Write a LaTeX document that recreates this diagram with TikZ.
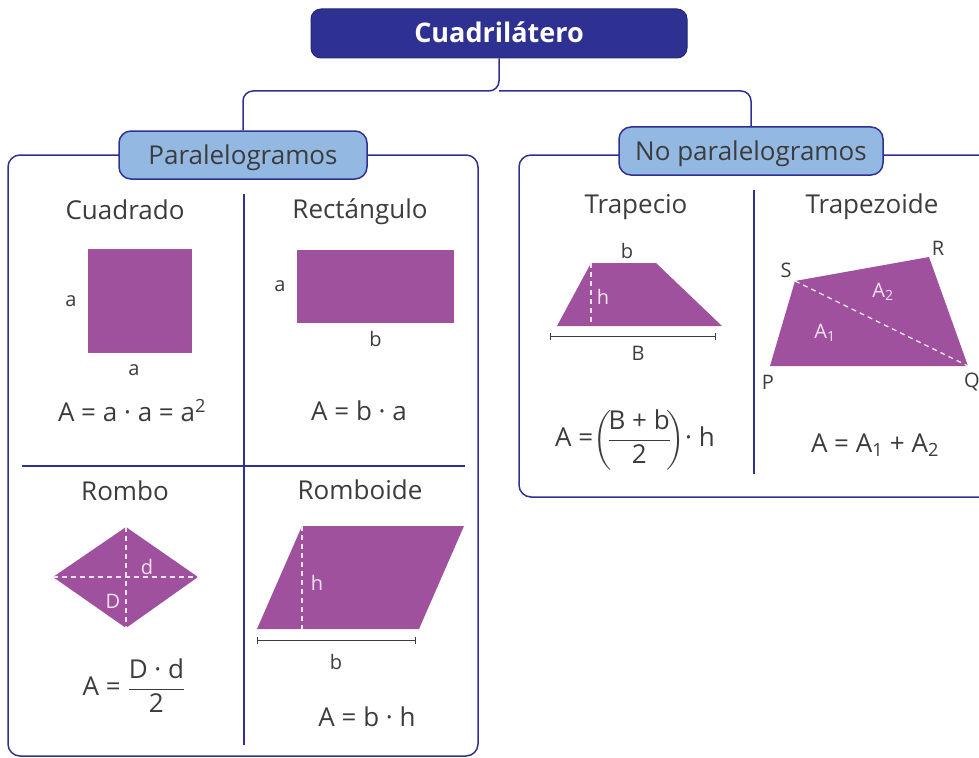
\documentclass[tikz,border=0pt]{standalone}
\usepackage{amsmath}
\usepackage{fontspec}
\setmainfont{Open Sans}
\usepackage{tikz}
\usetikzlibrary{positioning, calc, arrows.meta}
\definecolor{navy}{HTML}{2E3192}
\definecolor{sky}{HTML}{93B9E2}
\definecolor{plum}{HTML}{A0519E}
\definecolor{ink}{HTML}{3C3C3C}
\definecolor{pale}{HTML}{F3E3F1}
\tikzset{
    root/.style={
        rectangle,
        rounded corners=10pt,
        fill=navy,
        draw=navy!80!black,
        line width=1pt,
        text=white,
        font=\bfseries\fontsize{27}{32}\selectfont,
        minimum width=376pt,
        minimum height=49pt,
        text height=24pt,
        text depth=5pt,
    },
    group/.style={
        rectangle,
        rounded corners=12pt,
        fill=sky,
        draw=navy,
        line width=1.5pt,
        text=ink,
        font=\fontsize{26}{30}\selectfont,
        minimum height=48pt,
        text height=24.6pt,
        text depth=6pt,
    },
    panel/.style={draw=navy, line width=1.5pt, rounded corners=12pt},
    link/.style={draw=navy, line width=1.5pt, rounded corners=10pt},
    divider/.style={draw=navy, line width=1.5pt},
    heading/.style={text=ink, font=\fontsize{26}{30}\selectfont, anchor=base, inner sep=0pt},
    formula/.style={text=ink, font=\fontsize{26}{30}\selectfont, inner sep=0pt},
    figure/.style={fill=plum, draw=none, inner sep=0pt},
    hidden/.style={draw=pale, line width=1.3pt, dash pattern=on 5pt off 4pt},
    dim/.style={text=ink, font=\fontsize{20}{24}\selectfont, inner sep=0pt},
    inlabel/.style={text=pale, font=\fontsize{20}{24}\selectfont, inner sep=0pt},
    measure/.style={draw=ink, line width=1pt, {Bar[width=7pt]}-{Bar[width=7pt]}},
}

\begin{document}
\begin{tikzpicture}[x=1pt, y=-1pt]
    \clip (0,0) rectangle (979,757);

    % frames
    \draw[panel] (8,155) rectangle (478,756);
    \draw[panel] (519,155) rectangle (1000,497);
    \draw[divider] (244,194) -- (244,745);
    \draw[divider] (22,466) -- (465,466);
    \draw[divider] (754,190) -- (754,474);

    % tree
    \node[root] (root) at (499,33.5) {Cuadrilátero};
    \node[group, minimum width=248pt] (para) at (243,155) {Paralelogramos};
    \node[group, minimum width=264pt] (nopara) at (751,151) {No paralelogramos};
    \coordinate (split) at (499,91);
    \draw[link] (root) -- (split) -| (para);
    \draw[link] (split) -| (nopara);

    % cuadrado
    \node[heading] (cuad-t) at (125,219) {Cuadrado};
    \node[figure, minimum size=104pt] (sq) at (140,301) {};
    \node[dim, left=11pt of sq] (sq-a1) {a};
    \node[dim, below=11pt of sq, xshift=-6pt] (sq-a2) {a};
    \node[formula] (cuad-f) at (132,411) {A = a · a = a\textsuperscript{2}};

    % rectangulo
    \node[heading] (rect-t) at (360,218) {Rectángulo};
    \node[figure, minimum width=157pt, minimum height=73pt] (rect) at (375.5,286.5) {};
    \node[dim, left=11pt of rect] (rect-a) {a};
    \node[dim, below=8pt of rect] (rect-b) {b};
    \node[formula] (rect-f) at (359,411) {A = b · a};

    % rombo
    \node[heading] (rombo-t) at (125,500) {Rombo};
    \coordinate (rl) at (53,577);
    \coordinate (rr) at (198,577);
    \coordinate (rt) at (126,527);
    \coordinate (rb) at (126,628);
    \fill[plum] (rl) -- (rt) -- (rr) -- (rb) -- cycle;
    \draw[hidden] (rl) -- (rr);
    \draw[hidden] (rt) -- (rb);
    \node[inlabel] (rombo-d) at (147,567) {d};
    \node[inlabel] (rombo-D) at (113,601) {D};
    \node[formula] (rombo-f) at (134,686) {$\text{A = }\dfrac{\text{D · d}}{\text{2}}$};

    % romboide
    \node[heading] (romb-t) at (360,499) {Romboide};
    \coordinate (pa) at (257,629);
    \coordinate (pb) at (419,629);
    \coordinate (pc) at (464,526);
    \coordinate (pd) at (302,526);
    \fill[plum] (pa) -- (pb) -- (pc) -- (pd) -- cycle;
    \draw[hidden] (pd) -- (pd |- pa);
    \node[inlabel] (romb-h) at (317,583) {h};
    \coordinate (pm1) at (257,640);
    \coordinate (pm2) at (416,640);
    \draw[measure] (pm1) -- (pm2);
    \node[dim] (romb-b) at (336,662) {b};
    \node[formula] (romb-f) at (367,717) {A = b · h};

    % trapecio
    \node[heading] (trap-t) at (636,213) {Trapecio};
    \coordinate (ta) at (557,326);
    \coordinate (tb) at (722,326);
    \coordinate (tc) at (656,263);
    \coordinate (td) at (591,263);
    \fill[plum] (ta) -- (tb) -- (tc) -- (td) -- cycle;
    \draw[hidden] (td) -- (td |- ta);
    \node[inlabel] (trap-h) at (603,297) {h};
    \node[dim] (trap-b) at (627,251) {b};
    \coordinate (tm1) at (550,336);
    \coordinate (tm2) at (716,336);
    \draw[measure] (tm1) -- (tm2);
    \node[dim] (trap-B) at (638,353) {B};
    \node[formula] (trap-f) at (635,440) {$\text{A =}\!\left(\!\dfrac{\text{B + b}}{\text{2}}\!\right)\!\text{· h}$};

    % trapezoide
    \node[heading] (tzd-t) at (872,213) {Trapezoide};
    \coordinate (P) at (770,366);
    \coordinate (Q) at (968,366);
    \coordinate (R) at (929,257);
    \coordinate (S) at (795,281);
    \fill[plum] (P) -- (Q) -- (R) -- (S) -- cycle;
    \draw[hidden] (S) -- (Q);
    \node[dim] (lbl-S) at (786,270) {S};
    \node[dim] (lbl-R) at (938,248) {R};
    \node[dim] (lbl-P) at (768,382) {P};
    \node[dim] (lbl-Q) at (972,382) {Q};
    \node[inlabel] (tzd-a2) at (883,292) {A\textsubscript{2}};
    \node[inlabel] (tzd-a1) at (825,333) {A\textsubscript{1}};
    \node[formula] (tzd-f) at (875,445) {A = A\textsubscript{1} + A\textsubscript{2}};
\end{tikzpicture}
\end{document}
